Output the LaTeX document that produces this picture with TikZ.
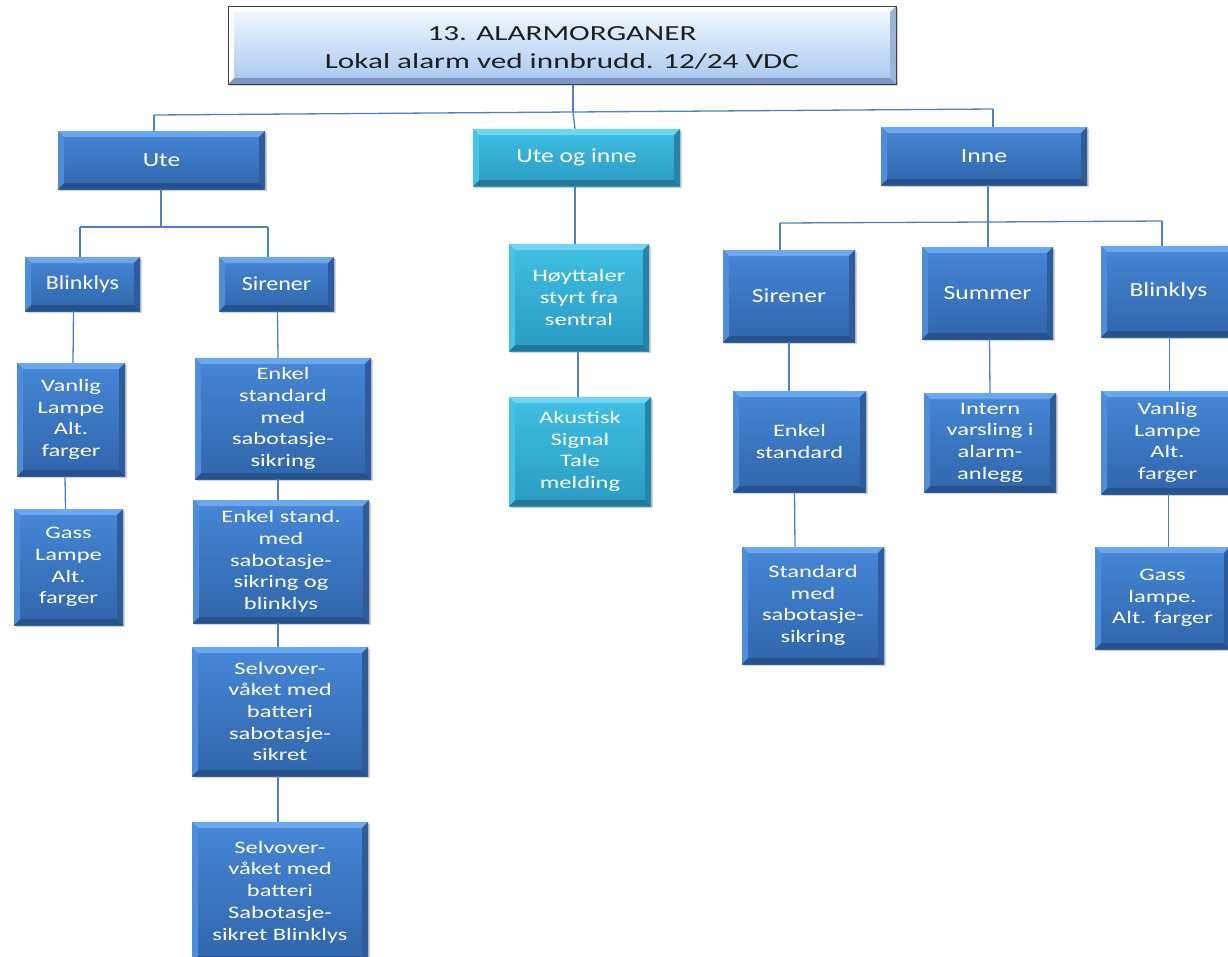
\documentclass[tikz,border=0pt]{standalone}
\usepackage{fontspec}
\setmainfont{Carlito}
\newfontfamily\titlefont{Carlito}[FakeStretch=1.45]
\newfontfamily\midfont{Carlito}[FakeStretch=1.28]
\newfontfamily\smallmidfont{Carlito}[FakeStretch=1.2]
\newfontfamily\lowfont{Carlito}[FakeStretch=1.4]
\usetikzlibrary{shadows,calc}

\definecolor{lineblue}{HTML}{4E81C4}
\definecolor{blueT}{HTML}{4687D6}
\definecolor{blueB}{HTML}{3065AB}
\definecolor{blueHi}{HTML}{6BA7EE}
\definecolor{blueL}{HTML}{4F8DD9}
\definecolor{blueR}{HTML}{2C5C9C}
\definecolor{blueLo}{HTML}{28528C}
\definecolor{tealT}{HTML}{40C0E4}
\definecolor{tealB}{HTML}{2A9AC2}
\definecolor{tealHi}{HTML}{6FD5F2}
\definecolor{tealL}{HTML}{47C3E4}
\definecolor{tealR}{HTML}{2585A8}
\definecolor{tealLo}{HTML}{217897}
\definecolor{titleT}{HTML}{F6FAFF}
\definecolor{titleB}{HTML}{A6C6EE}
\definecolor{titleLo}{HTML}{7D97C2}
\definecolor{titleR}{HTML}{9AB3D8}

% bevelled edges: #1 top, #2 left, #3 right, #4 bottom
\tikzset{
  bev/.style n args={4}{path picture={
    \def\bw{6}
    \fill[#1] (path picture bounding box.north west) -- (path picture bounding box.north east)
       -- ++(-\bw,\bw) -- ($(path picture bounding box.north west)+(\bw,\bw)$) -- cycle;
    \fill[#4] (path picture bounding box.south west) -- (path picture bounding box.south east)
       -- ++(-\bw,-\bw) -- ($(path picture bounding box.south west)+(\bw,-\bw)$) -- cycle;
    \fill[#2] (path picture bounding box.north west) -- ++(\bw,\bw)
       -- ($(path picture bounding box.south west)+(\bw,-\bw)$) -- (path picture bounding box.south west) -- cycle;
    \fill[#3] (path picture bounding box.north east) -- ++(-\bw,\bw)
       -- ($(path picture bounding box.south east)+(-\bw,-\bw)$) -- (path picture bounding box.south east) -- cycle;
  }}
}

% box from pixel corners: style, name, x1, y1, x2, y2, text
\newcommand\bx[7]{%
  \node[#1, minimum width={#5-#3}, minimum height={#6-#4}] (#2) at ({(#3+#5)/2},{(#4+#6)/2}) {#7};}
% a title line set a little lower than its box claims
\newcommand\lowered[1]{\raisebox{-3pt}[\height][\depth]{#1}}

\begin{document}
\begin{tikzpicture}[x=1pt,y=-1pt,
  conn/.style={draw=lineblue, line width=1.3pt},
  box/.style={inner sep=0pt, align=center, text=white,
    drop shadow={opacity=0.35, shadow xshift=1.5pt, shadow yshift=-2pt}},
  bluebox/.style={box, top color=blueT, bottom color=blueB, bev={blueHi}{blueL}{blueR}{blueLo}},
  tealbox/.style={box, top color=tealT, bottom color=tealB, bev={tealHi}{tealL}{tealR}{tealLo}},
  mid/.style={font=\midfont\fontsize{20}{24}\selectfont},
  smallmid/.style={font=\smallmidfont\fontsize{20}{24}\selectfont},
  low/.style={font=\lowfont\fontsize{17.5}{21.7}\selectfont},
  titlebox/.style={inner sep=0pt, align=center, text=black!88, draw=black!75, line width=1pt,
    top color=titleT, bottom color=titleB, bev={white}{white!70!titleT}{titleR}{titleLo},
    font=\titlefont\fontsize{21.5}{28}\selectfont,
    drop shadow={opacity=0.35, shadow xshift=1.5pt, shadow yshift=-2pt}},
]
\useasboundingbox (0,0) rectangle (1228,956);
\clip (0,0) rectangle (1228,956);

% ---- boxes ----
\bx{titlebox}{T}{228}{6}{896}{84}{\lowered{13. ALARMORGANER}\\\lowered{Lokal alarm ved innbrudd. 12/24 VDC}}

\bx{bluebox,mid}{U}{58}{131}{265}{189}{Ute}
\bx{tealbox,mid}{UI}{473}{129}{680}{186}{Ute og inne}
\bx{bluebox,mid}{I}{881}{127}{1087}{185}{Inne}

\bx{bluebox,smallmid}{UB}{25}{257}{140}{311}{Blinklys}
\bx{bluebox,smallmid}{US}{219}{257}{334}{311}{Sirener}
\bx{bluebox,low}{UB1}{17}{363}{125}{476}{Vanlig\\Lampe\\Alt.\\farger}
\bx{bluebox,low}{UB2}{14}{509}{123}{625}{Gass\\Lampe\\Alt.\\farger}
\bx{bluebox,low}{US1}{195}{358}{371}{479}{Enkel\\standard\\med\\sabotasje-\\sikring}
\bx{bluebox,low}{US2}{193}{500}{369}{623}{Enkel stand.\\med\\sabotasje-\\sikring og\\blinklys}
\bx{bluebox,low}{US3}{192}{647}{368}{776}{Selvover-\\våket med\\batteri\\sabotasje-\\sikret}
\bx{bluebox,low}{US4}{192}{822}{368}{962}{Selvover-\\våket med\\batteri\\Sabotasje-\\sikret Blinklys}

\bx{tealbox,low}{UI1}{509}{244}{649}{351}{Høyttaler\\styrt fra\\sentral}
\bx{tealbox,low}{UI2}{509}{397}{651}{506}{Akustisk\\Signal\\Tale\\melding}

\bx{bluebox,mid}{IS}{723}{250}{855}{342}{Sirener}
\bx{bluebox,mid}{ISu}{922}{247}{1053}{339}{Summer}
\bx{bluebox,mid}{IB}{1101}{246}{1236}{337}{Blinklys}
\bx{bluebox,low}{IS1}{733}{391}{866}{492}{Enkel\\standard}
\bx{bluebox,low}{IS2}{742}{547}{884}{664}{Standard\\med\\sabotasje-\\sikring}
\bx{bluebox,low}{ISu1}{924}{393}{1056}{492}{Intern\\varsling i\\alarm-\\anlegg}
\bx{bluebox,low}{IB1}{1101}{391}{1234}{494}{Vanlig\\Lampe\\Alt.\\farger}
\bx{bluebox,low}{IB2}{1095}{547}{1230}{649}{Gass\\lampe.\\Alt. farger}

% ---- bus junctions ----
\coordinate (topL) at (154,115);
\coordinate (topM) at (573,112);
\coordinate (topR) at (993,109);
\coordinate (uteL) at (80,227);
\coordinate (uteM) at (161,227);
\coordinate (uteR) at (268,227);
\coordinate (inL) at (780,223);
\coordinate (inM) at (988,222);
\coordinate (inR) at (1162,221);

% ---- connectors ----
\draw[conn] (T.south -| topM) -- (topM);
\draw[conn] (topL) -- (topM) -- (topR);
\draw[conn] (topL) -- (U.north -| topL);
\draw[conn] (topM) -- ($(UI.north)+(-1.5,0)$);
\draw[conn] (topR) -- (I.north -| topR);

\draw[conn] (U.south -| uteM) -- (uteM);
\draw[conn] (uteL) -- (uteR);
\draw[conn] (uteL) -- (UB.north -| uteL);
\draw[conn] (uteR) -- (US.north -| uteR);

\draw[conn] (I.south -| inM) -- (inM);
\draw[conn] (inL) -- (inM) -- (inR);
\draw[conn] (inL) -- (IS.north -| inL);
\draw[conn] (inM) -- (ISu.north -| inM);
\draw[conn] (inR) -- (IB.north -| inR);

\draw[conn] ($(UB.south)+(-9,0)$) -- ($(UB1.north)+(2,0)$);
\draw[conn] ($(UB1.south)+(-6,0)$) -- ($(UB2.north)+(-3,0)$);
\draw[conn] ($(US.south)+(1,0)$) -- ($(US1.north)+(-5,0)$);
\draw[conn] ($(US1.south)+(-5,0)$) -- ($(US2.north)+(-3,0)$);
\draw[conn] ($(US2.south)+(-3,0)$) -- ($(US3.north)+(-2,0)$);
\draw[conn] ($(US3.south)+(-2,0)$) -- ($(US4.north)+(-2,0)$);

\draw[conn] ($(UI.south)+(-1.5,0)$) -- ($(UI1.north)+(-4,0)$);
\draw[conn] ($(UI1.south)+(-1,0)$) -- ($(UI2.north)+(-2,0)$);

\draw[conn] (IS.south) -- (IS1.north -| IS.south);
\draw[conn] ($(IS1.south)+(-5,0)$) -- ($(IS2.north)+(-18,0)$);
\draw[conn] ($(ISu.south)+(2,0)$) -- ($(ISu1.north)+(0,0)$);
\draw[conn] ($(IB.south)+(1,0)$) -- ($(IB1.north)+(2,0)$);
\draw[conn] ($(IB1.south)+(1,0)$) -- ($(IB2.north)+(6,0)$);
\end{tikzpicture}
\end{document}
